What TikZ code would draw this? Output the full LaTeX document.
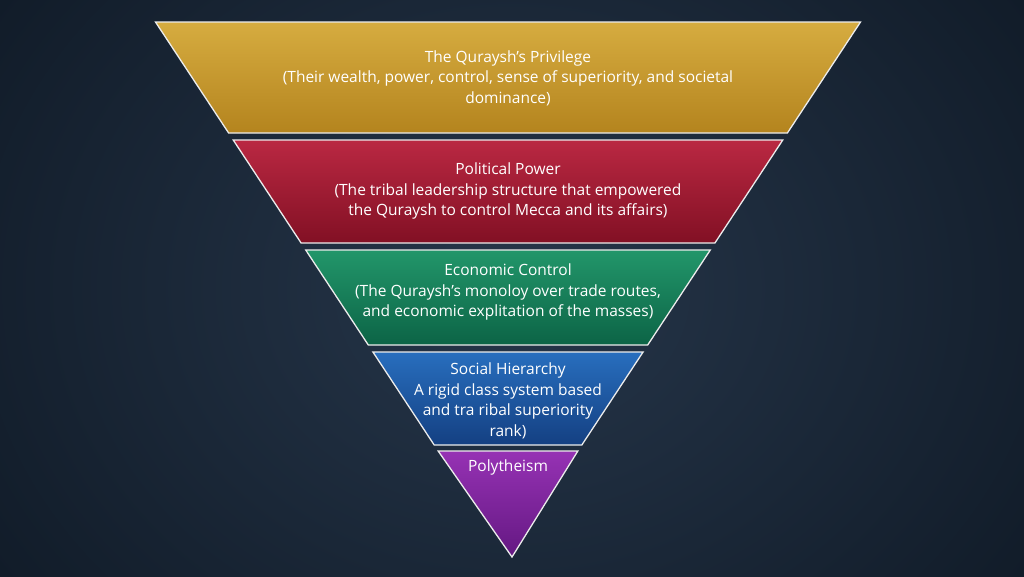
\documentclass[tikz,border=0pt]{standalone}
\usepackage{fontspec}
\setmainfont{Open Sans}
\begin{document}
\begin{tikzpicture}[x=1pt,y=-1pt,
  band/.style={draw=white!85!gray,line width=1.3pt},
  lbl/.style={text=white,align=center,font=\fontsize{15.5}{20.5}\selectfont,inner sep=0}]
\useasboundingbox (0,0) rectangle (1024,576);
\shade[inner color={rgb,255:red,38;green,54;blue,74},outer color={rgb,255:red,14;green,24;blue,36}] (-200,-300) rectangle (1224,876);
\def\hw#1{0.6589*(557-#1)}
\newcommand\bandshape[4]{%
  \shade[band,top color=#3,bottom color=#4] ({508-\hw{#1}},#1) -- ({508+\hw{#1}},#1) -- ({508+\hw{#2}},#2) -- ({508-\hw{#2}},#2) -- cycle;}
\definecolor{g1}{RGB}{214,172,64}\definecolor{g2}{RGB}{180,132,30}
\definecolor{r1}{RGB}{186,40,66}\definecolor{r2}{RGB}{130,16,36}
\definecolor{e1}{RGB}{34,150,106}\definecolor{e2}{RGB}{12,100,70}
\definecolor{b1}{RGB}{40,110,190}\definecolor{b2}{RGB}{20,64,130}
\definecolor{p1}{RGB}{150,50,180}\definecolor{p2}{RGB}{100,24,130}
\bandshape{22}{133}{g1}{g2}
\bandshape{140}{243}{r1}{r2}
\bandshape{250}{345}{e1}{e2}
\bandshape{352}{445}{b1}{b2}
\shade[band,top color=p1,bottom color=p2] ({508-\hw{451}},451) -- ({508+\hw{451}},451) -- (512,557) -- cycle;
\node[lbl] (t1) at (508,78) {The Quraysh's Privilege\\(Their wealth, power, control, sense of superiority, and societal\\dominance)};
\node[lbl] (t2) at (508,191) {Political Power\\(The tribal leadership structure that empowered\\the Quraysh to control Mecca and its affairs)};
\node[lbl] (t3) at (508,292) {Economic Control\\(The Quraysh's monoloy over trade routes,\\and economic explitation of the masses)};
\node[lbl] (t4) at (508,401) {Social Hierarchy\\A rigid class system based\\and tra ribal superiority\\rank)};
\node[lbl] (t5) at (508,467) {Polytheism};
\end{tikzpicture}
\end{document}
